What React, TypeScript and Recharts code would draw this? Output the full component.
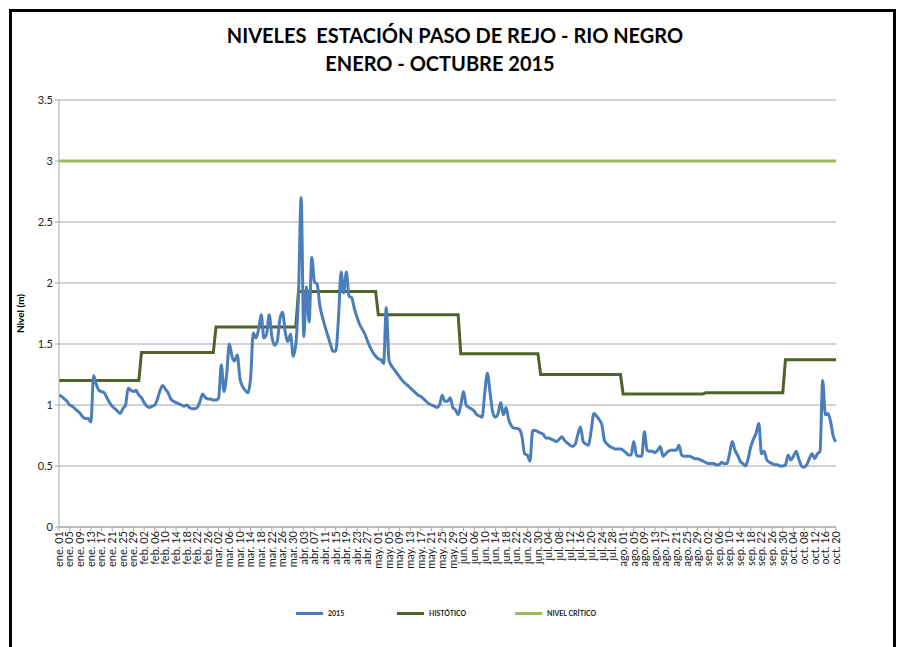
import { LineChart, Line, XAxis, YAxis, CartesianGrid } from 'recharts';

// Nivel diario 2015 (m)
const ene = [1.08, 1.07, 1.05, 1.03, 1.0, 0.99, 0.97, 0.95, 0.93, 0.9, 0.89, 0.89, 0.86, 1.24, 1.17, 1.12, 1.11, 1.1, 1.06, 1.02, 0.99, 0.97, 0.95, 0.93, 0.97, 1.0, 1.14, 1.12, 1.11, 1.12, 1.08];
const feb = [1.06, 1.02, 0.99, 0.98, 0.99, 1.0, 1.05, 1.12, 1.16, 1.13, 1.1, 1.05, 1.03, 1.02, 1.01, 1.0, 0.99, 1.0, 0.98, 0.97, 0.97, 0.98, 1.03, 1.09, 1.06, 1.05, 1.05, 1.04];
const mar = [1.04, 1.06, 1.33, 1.11, 1.25, 1.5, 1.4, 1.36, 1.41, 1.22, 1.15, 1.12, 1.1, 1.22, 1.59, 1.55, 1.62, 1.74, 1.55, 1.58, 1.74, 1.56, 1.49, 1.52, 1.7, 1.76, 1.6, 1.52, 1.58, 1.4, 1.5];
const abr = [1.9, 2.7, 1.56, 1.97, 1.68, 2.21, 2.01, 1.99, 1.82, 1.72, 1.64, 1.57, 1.5, 1.44, 1.44, 1.7, 2.09, 1.92, 2.09, 1.89, 1.88, 1.79, 1.72, 1.66, 1.62, 1.58, 1.52, 1.47, 1.43, 1.4];
const may = [1.38, 1.37, 1.34, 1.8, 1.37, 1.32, 1.29, 1.26, 1.23, 1.2, 1.18, 1.16, 1.14, 1.12, 1.1, 1.08, 1.07, 1.05, 1.03, 1.01, 1.0, 0.99, 0.98, 1.0, 1.08, 1.03, 1.03, 1.06, 0.98, 0.96, 0.92];
const jun = [1.0, 1.11, 1.0, 0.98, 0.97, 0.95, 0.92, 0.91, 0.9, 1.1, 1.26, 1.1, 0.94, 0.9, 0.93, 1.02, 0.92, 0.98, 0.88, 0.83, 0.81, 0.81, 0.8, 0.74, 0.6, 0.59, 0.54, 0.79, 0.79, 0.78];
const jul = [0.77, 0.76, 0.73, 0.73, 0.72, 0.71, 0.7, 0.72, 0.74, 0.71, 0.69, 0.67, 0.66, 0.68, 0.76, 0.82, 0.7, 0.68, 0.67, 0.79, 0.93, 0.91, 0.88, 0.84, 0.71, 0.68, 0.66, 0.65, 0.64, 0.64, 0.64];
const ago = [0.63, 0.61, 0.59, 0.59, 0.7, 0.59, 0.58, 0.58, 0.78, 0.63, 0.62, 0.62, 0.61, 0.63, 0.66, 0.58, 0.6, 0.62, 0.63, 0.63, 0.63, 0.67, 0.59, 0.58, 0.58, 0.58, 0.57, 0.56, 0.56, 0.55, 0.54];
const sep = [0.53, 0.52, 0.52, 0.52, 0.51, 0.51, 0.53, 0.52, 0.52, 0.6, 0.7, 0.63, 0.59, 0.54, 0.52, 0.5, 0.56, 0.66, 0.72, 0.77, 0.85, 0.6, 0.62, 0.55, 0.53, 0.52, 0.51, 0.51, 0.5, 0.5];
const oct = [0.51, 0.59, 0.55, 0.58, 0.62, 0.56, 0.5, 0.49, 0.51, 0.56, 0.6, 0.56, 0.6, 0.62, 1.2, 0.92, 0.93, 0.86, 0.74, 0.7];

const meses = ['ene', 'feb', 'mar', 'abr', 'may', 'jun', 'jul', 'ago', 'sep', 'oct'];
const nivel2015 = [ene, feb, mar, abr, may, jun, jul, ago, sep, oct];
// promedio histórico por mes (m)
const historico = [1.2, 1.43, 1.64, 1.93, 1.74, 1.42, 1.25, 1.09, 1.1, 1.37];
const nivelCritico = 3;
const yTicks = [0, 0.5, 1, 1.5, 2, 2.5, 3, 3.5];

const data = nivel2015.flatMap((dias, m) =>
  dias.map((v, i) => ({
    fecha: `${meses[m]}. ${String(i + 1).padStart(2, '0')}`,
    nivel: v,
    historico: historico[m],
    critico: nivelCritico,
  }))
);

const BLUE = '#4a7ebb';
const DARK_GREEN = '#4f6228';
const LIGHT_GREEN = '#9bbb59';
const FONT = 'Lato, "Open Sans", sans-serif';

const legendItems = [
  { name: '2015', color: BLUE, left: 296 },
  { name: 'HISTÓTICO', color: DARK_GREEN, left: 397 },
  { name: 'NIVEL CRÍTICO', color: LIGHT_GREEN, left: 515 },
];

export default function App() {
  return (
    <div
      style={{
        position: 'absolute',
        left: 0,
        top: 0,
        width: 898,
        height: 647,
        overflow: 'hidden',
        background: '#fff',
        fontFamily: FONT,
      }}
    >
      <div
        style={{
          position: 'absolute',
          left: 9,
          top: 9,
          width: 881,
          height: 700,
          border: '3px solid #000',
        }}
      />
      <div
        style={{
          position: 'absolute',
          left: 0,
          width: 910,
          top: 23,
          textAlign: 'center',
          fontWeight: 700,
          fontSize: 20,
          color: '#000',
          whiteSpace: 'pre',
        }}
      >
        {'NIVELES  ESTACIÓN PASO DE REJO - RIO NEGRO'}
      </div>
      <div
        style={{
          position: 'absolute',
          left: 0,
          width: 880,
          top: 51,
          textAlign: 'center',
          fontWeight: 700,
          fontSize: 20,
          color: '#000',
        }}
      >
        ENERO - OCTUBRE 2015
      </div>

      <div style={{ position: 'absolute', left: 0, top: 0 }}>
        <LineChart
          width={898}
          height={647}
          data={data}
          margin={{ top: 100, right: 62, left: 9, bottom: 70 }}
        >
          <CartesianGrid vertical={false} stroke="#a6a6a6" strokeWidth={1} />
          <XAxis
            dataKey="fecha"
            interval={3}
            height={50}
            stroke="#a6a6a6"
            tickSize={4}
            tick={{ fill: '#222', fontSize: 11, fontFamily: FONT }}
            angle={-90}
            textAnchor="end"
            dx={-4}
            dy={-2}
          />
          <YAxis
            width={50}
            domain={[0, 3.5]}
            ticks={yTicks}
            stroke="#a6a6a6"
            tickSize={4}
            tick={{ fill: '#222', fontSize: 11, fontFamily: FONT }}
            label={{
              value: 'Nivel (m)',
              angle: -90,
              position: 'insideLeft',
              offset: 11,
              style: { fontSize: 10, fontWeight: 700, fill: '#000', fontFamily: FONT, textAnchor: 'middle' },
            }}
          />
          <Line
            type="linear"
            dataKey="critico"
            stroke={LIGHT_GREEN}
            strokeWidth={3}
            dot={false}
            isAnimationActive={false}
          />
          <Line
            type="linear"
            dataKey="historico"
            stroke={DARK_GREEN}
            strokeWidth={3}
            dot={false}
            isAnimationActive={false}
          />
          <Line
            type="monotone"
            dataKey="nivel"
            stroke={BLUE}
            strokeWidth={3}
            dot={false}
            isAnimationActive={false}
          />
        </LineChart>
      </div>

      {legendItems.map((it) => (
        <div
          key={it.name}
          style={{
            position: 'absolute',
            left: it.left,
            top: 609,
            display: 'flex',
            alignItems: 'center',
            fontSize: 7,
            fontWeight: 700,
            color: '#222',
          }}
        >
          <span style={{ display: 'inline-block', width: 27, height: 3, background: it.color, marginRight: 5 }} />
          {it.name}
        </div>
      ))}
    </div>
  );
}
